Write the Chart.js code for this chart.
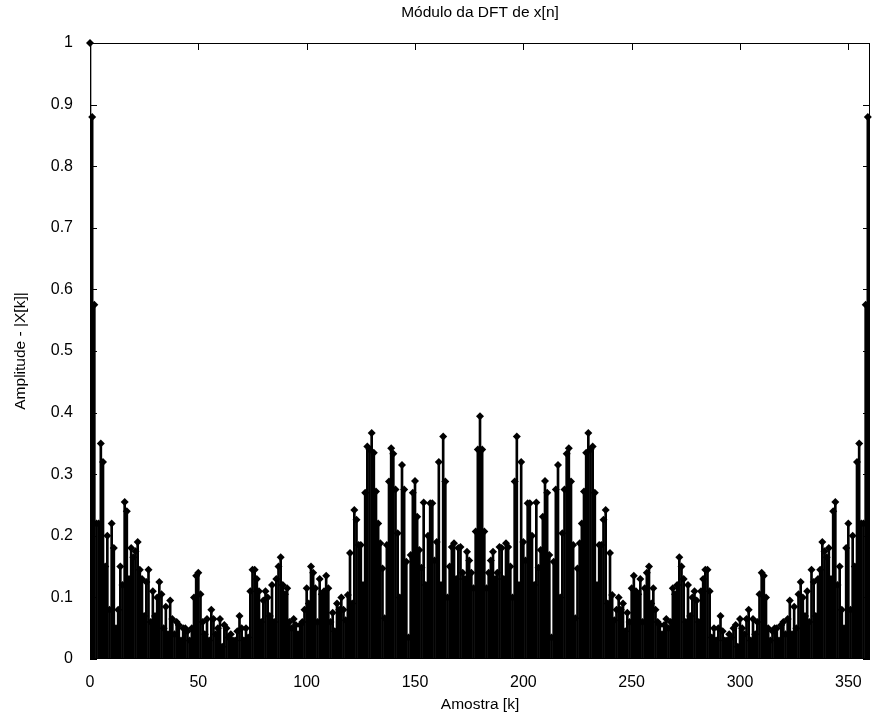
<!DOCTYPE html>
<html lang="pt">
<head>
    <meta charset="UTF-8">
    <title>Módulo da DFT de x[n]</title>
    <script src="https://cdn.jsdelivr.net/npm/chart.js"></script>
    <style>
        html, body { margin: 0; padding: 0; background: #fff; }
        #wrap { width: 874px; height: 726px; }
    </style>
</head>
<body>
    <div id="wrap"><canvas id="dftChart" width="874" height="726"></canvas></div>

    <script>
        // |X[k]|, k = 0 .. 359
        const modulo = [
            1.0, 0.88, 0.575, 0.22, 0.22, 0.35, 0.32, 0.15, 0.20, 0.08,
            0.22, 0.18, 0.05, 0.08, 0.15, 0.12, 0.255, 0.24, 0.13, 0.18,
            0.165, 0.175, 0.19, 0.145, 0.13, 0.07, 0.125, 0.145, 0.06, 0.11,
            0.07, 0.10, 0.125, 0.105, 0.05, 0.085, 0.04, 0.095, 0.065, 0.04,
            0.06, 0.055, 0.03, 0.05, 0.05, 0.045, 0.03, 0.05, 0.10, 0.135,
            0.14, 0.105, 0.06, 0.04, 0.065, 0.03, 0.08, 0.065, 0.04, 0.05,
            0.065, 0.02, 0.055, 0.05, 0.035, 0.04, 0.03, 0.03, 0.045, 0.07,
            0.05, 0.03, 0.05, 0.035, 0.11, 0.145, 0.145, 0.13, 0.11, 0.06,
            0.095, 0.11, 0.10, 0.07, 0.12, 0.06, 0.13, 0.15, 0.165, 0.12,
            0.105, 0.115, 0.06, 0.05, 0.065, 0.055, 0.04, 0.055, 0.06, 0.08,
            0.115, 0.09, 0.15, 0.14, 0.115, 0.06, 0.13, 0.105, 0.11, 0.135,
            0.115, 0.06, 0.075, 0.045, 0.09, 0.08, 0.10, 0.08, 0.063, 0.104,
            0.172, 0.09, 0.242, 0.226, 0.185, 0.185, 0.12, 0.27, 0.345, 0.34,
            0.367, 0.335, 0.272, 0.22, 0.188, 0.147, 0.066, 0.185, 0.288, 0.342,
            0.333, 0.275, 0.204, 0.10, 0.315, 0.275, 0.158, 0.035, 0.169, 0.27,
            0.289, 0.231, 0.177, 0.148, 0.254, 0.12, 0.20, 0.253, 0.253, 0.16,
            0.19, 0.32, 0.12, 0.361, 0.288, 0.10, 0.15, 0.182, 0.188, 0.13,
            0.18, 0.182, 0.14, 0.13, 0.174, 0.16, 0.14, 0.115, 0.207, 0.34,
            0.394, 0.34, 0.207, 0.115, 0.14, 0.16, 0.174, 0.13, 0.14, 0.182,
            0.18, 0.13, 0.188, 0.182, 0.15, 0.10, 0.288, 0.361, 0.12, 0.32,
            0.19, 0.16, 0.253, 0.253, 0.20, 0.12, 0.254, 0.148, 0.177, 0.231,
            0.289, 0.27, 0.169, 0.035, 0.158, 0.275, 0.315, 0.10, 0.204, 0.275,
            0.333, 0.342, 0.288, 0.185, 0.066, 0.147, 0.188, 0.22, 0.272, 0.335,
            0.367, 0.34, 0.345, 0.27, 0.12, 0.185, 0.185, 0.226, 0.242, 0.09,
            0.172, 0.104, 0.063, 0.08, 0.10, 0.08, 0.09, 0.045, 0.075, 0.06,
            0.115, 0.135, 0.11, 0.105, 0.13, 0.06, 0.115, 0.14, 0.15, 0.09,
            0.115, 0.08, 0.06, 0.055, 0.04, 0.055, 0.065, 0.05, 0.06, 0.115,
            0.105, 0.12, 0.165, 0.15, 0.13, 0.06, 0.12, 0.07, 0.10, 0.11,
            0.095, 0.06, 0.11, 0.13, 0.145, 0.145, 0.11, 0.035, 0.05, 0.03,
            0.05, 0.07, 0.045, 0.03, 0.03, 0.04, 0.035, 0.05, 0.055, 0.02,
            0.065, 0.05, 0.04, 0.065, 0.08, 0.03, 0.065, 0.04, 0.06, 0.105,
            0.14, 0.135, 0.10, 0.05, 0.03, 0.045, 0.05, 0.05, 0.03, 0.055,
            0.06, 0.04, 0.065, 0.095, 0.04, 0.085, 0.05, 0.105, 0.125, 0.10,
            0.07, 0.11, 0.06, 0.145, 0.125, 0.07, 0.13, 0.145, 0.19, 0.175,
            0.165, 0.18, 0.13, 0.24, 0.255, 0.12, 0.15, 0.08, 0.05, 0.18,
            0.22, 0.08, 0.20, 0.15, 0.32, 0.35, 0.22, 0.22, 0.575, 0.88
        ];
        const amostras = modulo.map((v, k) => k);   // eixo k
        const xTicks = [0, 50, 100, 150, 200, 250, 300, 350];
        const yTicks = [0, 0.1, 0.2, 0.3, 0.4, 0.5, 0.6, 0.7, 0.8, 0.9, 1];

        const familia = '"Liberation Sans", Arial, sans-serif';
        const fonteTicks = { family: familia, size: 16 };
        const fonteTitulos = { family: familia, size: 15.5, weight: 'normal' };
        const pontos = amostras.map((k, i) => ({ x: k, y: modulo[i] }));

        // caixa com ticks para dentro, como no MATLAB
        const caixaMatlab = {
            id: 'caixaMatlab',
            beforeDatasetsDraw(chart) {
                const { ctx, chartArea: a, scales: { x, y } } = chart;
                const tl = 7;
                ctx.save();
                ctx.strokeStyle = '#000';
                ctx.lineWidth = 1;
                ctx.strokeRect(a.left + 0.5, a.top + 0.5, a.right - a.left - 1, a.bottom - a.top - 1);
                ctx.beginPath();
                xTicks.forEach(v => {
                    const px = Math.round(x.getPixelForValue(v)) + 0.5;
                    ctx.moveTo(px, a.bottom); ctx.lineTo(px, a.bottom - tl);
                    ctx.moveTo(px, a.top); ctx.lineTo(px, a.top + tl);
                });
                yTicks.forEach(v => {
                    const py = Math.round(y.getPixelForValue(v)) + 0.5;
                    ctx.moveTo(a.left, py); ctx.lineTo(a.left + tl, py);
                    ctx.moveTo(a.right, py); ctx.lineTo(a.right - tl, py);
                });
                ctx.stroke();
                ctx.restore();
            }
        };

        new Chart(document.getElementById('dftChart'), {
            type: 'bar',
            data: {
                datasets: [
                    {
                        type: 'scatter',
                        data: pontos,
                        pointStyle: 'rectRot',
                        pointRadius: 4,
                        backgroundColor: '#000',
                        borderColor: '#000',
                        borderWidth: 0,
                        clip: false
                    },
                    {
                        type: 'bar',
                        data: pontos,
                        backgroundColor: '#000',
                        barThickness: 2,
                        grouped: false
                    }
                ]
            },
            options: {
                responsive: false,
                animation: false,
                devicePixelRatio: 1,
                layout: { padding: { left: 0, right: 1, top: 0, bottom: 0 } },
                plugins: {
                    legend: { display: false },
                    tooltip: { enabled: false },
                    title: {
                        display: true,
                        fullSize: false,
                        text: 'Módulo da DFT de x[n]',
                        color: '#000',
                        font: fonteTitulos,
                        padding: { top: 3, bottom: 21.4 }
                    }
                },
                scales: {
                    x: {
                        type: 'linear',
                        min: 0,
                        max: 360,
                        offset: false,
                        grid: { display: false },
                        border: { display: false },
                        afterBuildTicks: s => { s.ticks = xTicks.map(v => ({ value: v })); },
                        afterFit: s => { s.height = 67; },
                        ticks: { color: '#000', font: fonteTicks, padding: 6, maxRotation: 0, autoSkip: false },
                        title: {
                            display: true,
                            text: 'Amostra [k]',
                            color: '#000',
                            font: fonteTitulos,
                            padding: { top: 0, bottom: 12 }
                        }
                    },
                    y: {
                        min: 0,
                        max: 1,
                        grid: { display: false },
                        border: { display: false },
                        afterBuildTicks: s => { s.ticks = yTicks.map(v => ({ value: v })); },
                        afterFit: s => { s.width = 90; },
                        ticks: { color: '#000', font: fonteTicks, padding: 9, callback: v => String(v) },
                        title: {
                            display: true,
                            text: 'Amplitude - |X[k]|',
                            color: '#000',
                            font: fonteTitulos,
                            padding: { top: 11, bottom: 0 }
                        }
                    }
                }
            },
            plugins: [caixaMatlab]
        });
    </script>
</body>
</html>
